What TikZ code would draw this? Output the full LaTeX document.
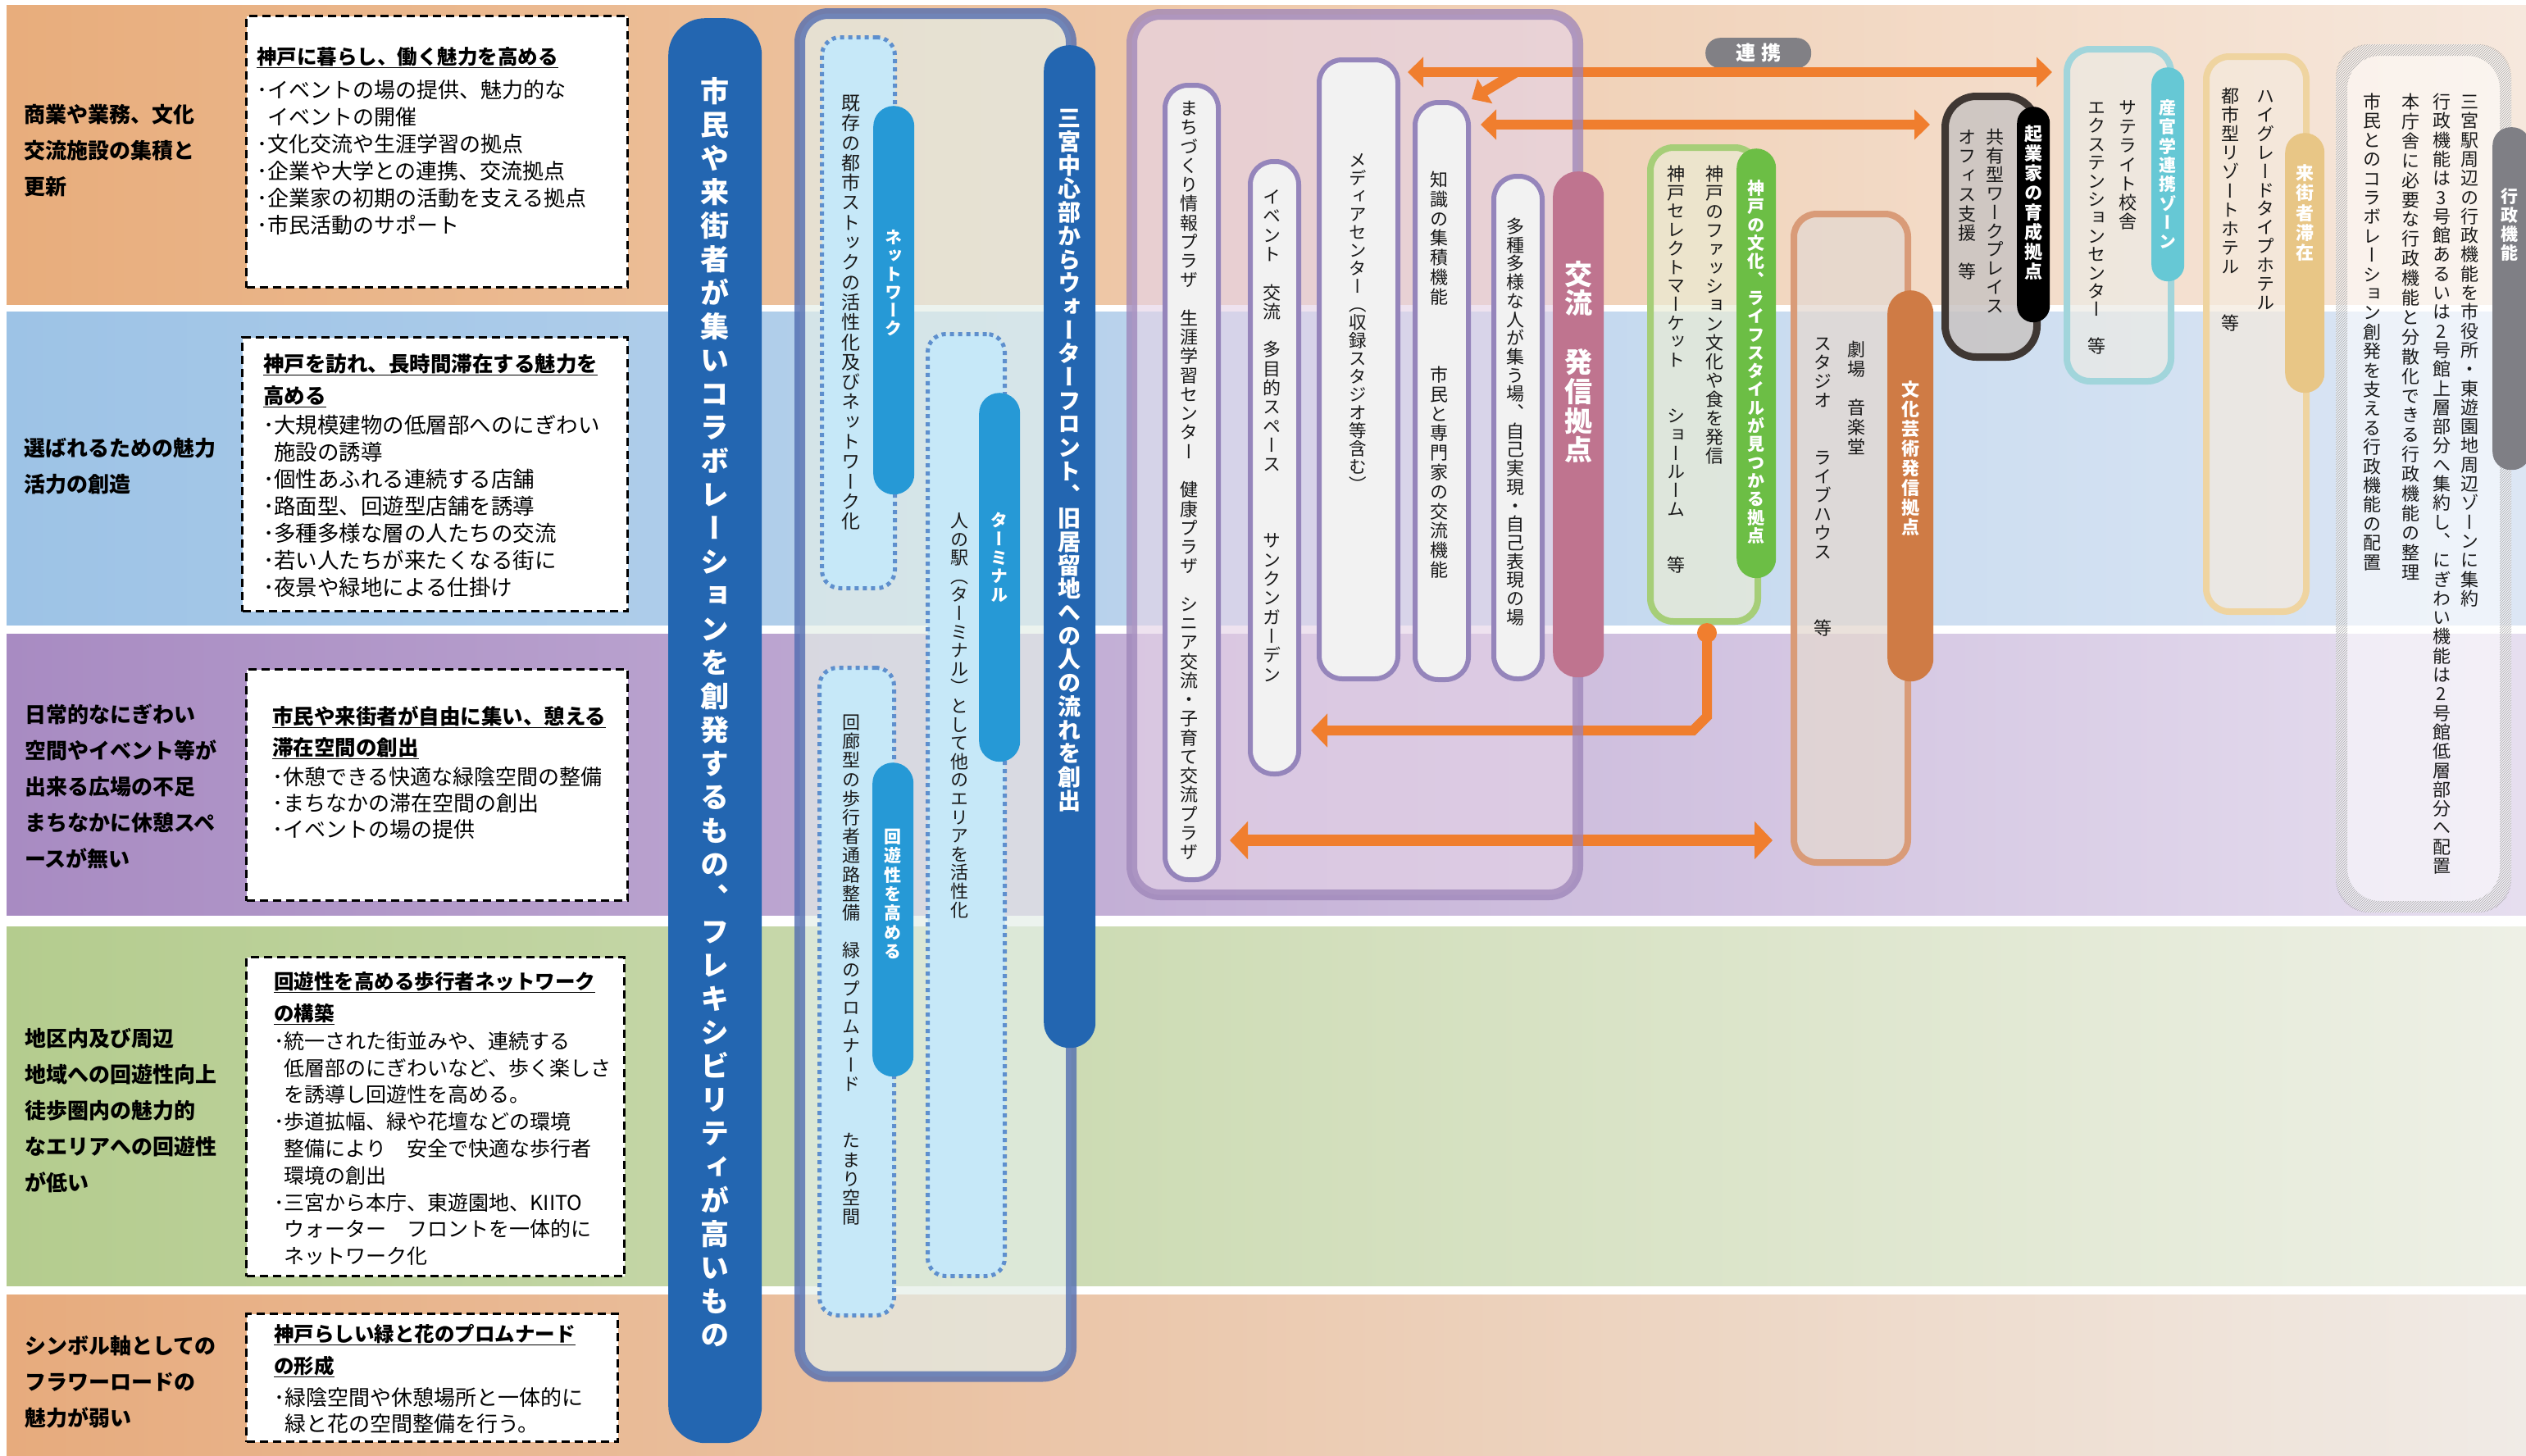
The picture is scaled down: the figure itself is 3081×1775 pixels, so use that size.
\documentclass[tikz,border=0pt]{standalone}
\usepackage{fontspec}
\setmainfont{Noto Sans CJK JP}
\newfontfamily\vjp[RawFeature=+vert]{Noto Sans CJK JP}
\usetikzlibrary{arrows.meta,patterns,calc}

\newcommand\fsz[2]{\fontsize{#1}{#2}\selectfont}
\ExplSyntaxOn
\NewDocumentCommand\vtext{O{0pt}m}
 {
  \vbox
   {
    \offinterlineskip
    \tl_map_inline:nn {#2}
     {
      \hbox to 1em {\hss \vrule width 0pt height .88em depth .12em \relax ##1 \hss}
      \kern #1 \relax
     }
    \unkern
   }
 }
\ExplSyntaxOff

\definecolor{bandAl}{HTML}{E8AD7C}\definecolor{bandAr}{HTML}{F6E8DD}
\definecolor{bandBl}{HTML}{9DC3E6}\definecolor{bandBr}{HTML}{DCE6F4}
\definecolor{bandCl}{HTML}{A88BC2}\definecolor{bandCr}{HTML}{E6DEEF}
\definecolor{bandDl}{HTML}{B4CC8E}\definecolor{bandDr}{HTML}{EEF0E6}
\definecolor{bandEl}{HTML}{E7AB7D}\definecolor{bandEr}{HTML}{F0EBE6}
\definecolor{navy}{HTML}{2366B1}
\definecolor{midblue}{HTML}{2699D6}
\definecolor{dotblue}{HTML}{5E8FCD}
\definecolor{paleblue}{HTML}{C6E8F8}
\definecolor{fonefill}{HTML}{E4EEE8}
\definecolor{foneline}{HTML}{4F6BB0}
\definecolor{ftwofill}{HTML}{E5D3E7}
\definecolor{ftwoline}{HTML}{9C84B8}
\definecolor{mline}{HTML}{9585BB}
\definecolor{mfill}{HTML}{F2F2F2}
\definecolor{mauve}{HTML}{BF748F}
\definecolor{orng}{HTML}{F07E2E}
\definecolor{greenpill}{HTML}{6CBE45}
\definecolor{greenline}{HTML}{A6CE78}
\definecolor{greenfill}{HTML}{EAECD4}
\definecolor{terrapill}{HTML}{CF7B45}
\definecolor{terraline}{HTML}{D99B78}
\definecolor{terrafill}{HTML}{E4D8D0}
\definecolor{kline}{HTML}{3F3733}
\definecolor{kfill}{HTML}{C9C4C2}
\definecolor{tealpill}{HTML}{66C8D5}
\definecolor{tealline}{HTML}{A1D5DB}
\definecolor{tealfill}{HTML}{ECEBE5}
\definecolor{goldpill}{HTML}{E8C686}
\definecolor{goldline}{HTML}{EFD4A0}
\definecolor{goldfill}{HTML}{F4EADD}
\definecolor{greypill}{HTML}{7F7F85}
\definecolor{hatchc}{HTML}{A8A8A8}
\definecolor{lkgrey}{HTML}{818085}

\tikzset{
 vt/.style={inner sep=0pt, anchor=north, text=black!90, font=\vjp\fsz{#1}{#1}},
 vtw/.style={inner sep=0pt, anchor=north, text=white, font=\vjp\bfseries\fsz{#1}{#1}},
 prob/.style={inner sep=0pt, anchor=north west, align=left, font=\bfseries\fsz{26}{44}},
 ttl/.style={inner sep=0pt, anchor=north west, align=left},
 bul/.style={inner sep=0pt, anchor=north west, align=left},
 dbox/.style={draw=black, line width=3pt, dash pattern=on 10pt off 6pt, fill=white, anchor=north west, inner sep=0pt},
 dotbox/.style={draw=dotblue, line width=5pt, dash pattern=on 5pt off 5pt, fill=paleblue, rounded corners=22pt, anchor=north west, inner sep=0pt},
 pill/.style={anchor=north west, inner sep=0pt, draw=none},
 mbox/.style={draw=mline, line width=6pt, fill=mfill, rounded corners=28pt, anchor=north west, inner sep=0pt},
 obox/.style={line width=8pt, rounded corners=28pt, anchor=north west, inner sep=0pt},
 arr/.style={draw=orng, line width=12pt},
}

\begin{document}
\begin{tikzpicture}[x=1pt,y=-1pt]
\useasboundingbox (0,0) rectangle (3081,1775);
\fill[white] (0,0) rectangle (3081,1775);
% bands
\shade[left color=bandAl, right color=bandAr] (8,6) rectangle (3081,371);
\shade[left color=bandBl, right color=bandBr] (8,380) rectangle (3081,762);
\shade[left color=bandCl, right color=bandCr] (8,773) rectangle (3081,1116);
\shade[left color=bandDl, right color=bandDr] (8,1130) rectangle (3081,1568);
\shade[left color=bandEl, right color=bandEr] (8,1579) rectangle (3081,1775);

% problem texts
\node[prob] (p1) at (29,127) {商業や業務、文化\\交流施設の集積と\\更新};
\node[prob] (p2) at (29,534) {選ばれるための魅力\\活力の創造};
\node[prob] (p3) at (30,859) {日常的なにぎわい\\空間やイベント等が\\出来る広場の不足\\まちなかに休憩スペ\\ースが無い};
\node[prob] (p4) at (30,1254) {地区内及び周辺\\地域への回遊性向上\\徒歩圏内の魅力的\\なエリアへの回遊性\\が低い};
\node[prob] (p5) at (30,1629) {シンボル軸としての\\フラワーロードの\\魅力が弱い};

% dashed boxes
\node[dbox, minimum width=465pt, minimum height=331pt] (db1) at (299,18) {};
\node[dbox, minimum width=470pt, minimum height=334pt] (db2) at (294,410) {};
\node[dbox, minimum width=465pt, minimum height=282pt] (db3) at (299,815) {};
\node[dbox, minimum width=461pt, minimum height=389pt] (db4) at (299,1166) {};
\node[dbox, minimum width=453pt, minimum height=156pt] (db5) at (299,1601) {};

\node[ttl, font=\bfseries\fsz{24.5}{39}] (t1) at (313,57) {\underline{神戸に暮らし、働く魅力を高める}};
\node[bul, font=\fsz{26}{33}] (b1) at (313,97) {･イベントの場の提供、魅力的な\\\phantom{･}イベントの開催\\･文化交流や生涯学習の拠点\\･企業や大学との連携、交流拠点\\･企業家の初期の活動を支える拠点\\･市民活動のサポート};

\node[ttl, font=\bfseries\fsz{25.5}{39}] (t2) at (321,431) {\underline{神戸を訪れ、長時間滞在する魅力を}\\\underline{高める}};
\node[bul, font=\fsz{26.5}{33}] (b2) at (321,506) {･大規模建物の低層部へのにぎわい\\\phantom{･}施設の誘導\\･個性あふれる連続する店舗\\･路面型、回遊型店舗を誘導\\･多種多様な層の人たちの交流\\･若い人たちが来たくなる街に\\･夜景や緑地による仕掛け};

\node[ttl, font=\bfseries\fsz{25.5}{38}] (t3) at (332,861) {\underline{市民や来街者が自由に集い、憩える}\\\underline{滞在空間の創出}};
\node[bul, font=\fsz{26}{32}] (b3) at (332,935) {･休憩できる快適な緑陰空間の整備\\･まちなかの滞在空間の創出\\･イベントの場の提供};

\node[ttl, font=\bfseries\fsz{24.5}{39}] (t4) at (334,1185) {\underline{回遊性を高める歩行者ネットワーク}\\\underline{の構築}};
\node[bul, font=\fsz{25}{32.8}] (b4) at (334,1258) {･統一された街並みや、連続する\\\phantom{･}低層部のにぎわいなど、歩く楽しさ\\\phantom{･}を誘導し回遊性を高める。\\･歩道拡幅、緑や花壇などの環境\\\phantom{･}整備により　安全で快適な歩行者\\\phantom{･}環境の創出\\･三宮から本庁、東遊園地、KIITO\\\phantom{･}ウォーター　フロントを一体的に\\\phantom{･}ネットワーク化};

\node[ttl, font=\bfseries\fsz{24.5}{39}] (t5) at (334,1615) {\underline{神戸らしい緑と花のプロムナード}\\\underline{の形成}};
\node[bul, font=\fsz{26}{32}] (b5) at (334,1692) {･緑陰空間や休憩場所と一体的に\\\phantom{･}緑と花の空間整備を行う。};

% big pill
\node[pill, fill=navy, rounded corners=45pt, minimum width=114pt, minimum height=1738pt] (bigp) at (815,22) {};
\node[vtw=35] (bigt) at (872,93) {\vtext[6pt]{市民や来街者が集いコラボレーションを創発するもの、フレキシビリティが高いもの}};

% frame 1
\path[fill=fonefill, fill opacity=.7, rounded corners=35pt] (975.5,16.5) rectangle (1306.5,1679);
\draw[foneline, draw opacity=.78, line width=13pt, rounded corners=35pt] (975.5,16.5) rectangle (1306.5,1679);

\node[dotbox, minimum width=89pt, minimum height=672pt] (dA) at (1000,43) {};
\node[dotbox, minimum width=94pt, minimum height=1149pt] (dB) at (1129,405) {};
\node[dotbox, minimum width=91pt, minimum height=790pt] (dC) at (997,812) {};
\node[vt=23] (tA) at (1038,114) {\vtext[1.3pt]{既存の都市ストックの活性化及びネットワーク化}};
\node[vt=22] (tB) at (1170,624) {\vtext[0.6pt]{人の駅（ターミナル）として他のエリアを活性化}};
\node[vt=22] (tC) at (1038,870) {\vtext[1.2pt]{回廊型の歩行者通路整備　緑のプロムナード　　たまり空間}};

\node[pill, fill=midblue, rounded corners=25pt, minimum width=50pt, minimum height=474pt] (pNet) at (1065,129) {};
\node[pill, fill=midblue, rounded corners=25pt, minimum width=50pt, minimum height=450pt] (pTer) at (1194,479) {};
\node[pill, fill=midblue, rounded corners=25pt, minimum width=50pt, minimum height=383pt] (pKai) at (1064,930) {};
\node[vtw=21] (tNet) at (1090,279) {\vtext[1.2pt]{ネットワーク}};
\node[vtw=21] (tTer) at (1219,624) {\vtext[1.75pt]{ターミナル}};
\node[vtw=21] (tKai) at (1089,1010) {\vtext[2.3pt]{回遊性を高める}};

\node[pill, fill=navy, rounded corners=31pt, minimum width=63pt, minimum height=1223pt] (pSan) at (1273,55) {};
\node[vtw=28] (tSan) at (1304,130) {\vtext[0.7pt]{三宮中心部からウォーターフロント、旧居留地への人の流れを創出}};

% frame 2
\path[fill=ftwofill, fill opacity=.65, rounded corners=35pt] (1380.5,17.5) rectangle (1924.5,1091.5);
\node[mbox, minimum width=65pt, minimum height=969pt] (M1) at (1418,101) {};
\node[mbox, minimum width=59pt, minimum height=747pt] (M2) at (1522,194) {};
\node[mbox, minimum width=96pt, minimum height=755pt] (M3) at (1606,70) {};
\node[mbox, minimum width=65pt, minimum height=704pt] (M4) at (1723,122) {};
\node[mbox, minimum width=59pt, minimum height=613pt] (M5) at (1819,212) {};
\node[vt=22] (tM1) at (1450,121) {\vtext[1.26pt]{まちづくり情報プラザ　生涯学習センター　健康プラザ　シニア交流・子育て交流プラザ}};
\node[vt=22] (tM2) at (1551,229) {\vtext[1.3pt]{イベント　交流　多目的スペース　　　サンクンガーデン}};
\node[vt=21.5] (tM3) at (1656,184) {\vtext[0.5pt]{メディアセンター（収録スタジオ等含む）}};
\node[vt=22] (tM4) at (1755,208) {\vtext[1.8pt]{知識の集積機能　　　市民と専門家の交流機能}};
\node[vt=22] (tM5) at (1848,265) {\vtext[0.7pt]{多種多様な人が集う場、自己実現・自己表現の場}};

% green box
\node[obox, draw=greenline, fill=greenfill, fill opacity=.67, minimum width=131pt, minimum height=578pt] (gbox) at (2009,176) {};
\node[pill, fill=greenpill, rounded corners=24pt, minimum width=48pt, minimum height=524pt] (gpill) at (2118,181) {};
\node[vtw=21] (tgp) at (2142,219) {\vtext[1.3pt]{神戸の文化、ライフスタイルが見つかる拠点}};
\node[vt=22] (tg1) at (2091,201) {\vtext[0.9pt]{神戸のファッション文化や食を発信}};
\node[vt=22] (tg2) at (2044,201) {\vtext[0.7pt]{神戸セレクトマーケット　　ショールーム　　等}};

% orange box
\node[obox, draw=terraline, fill=terrafill, fill opacity=.75, minimum width=139pt, minimum height=791pt] (obox) at (2184,257) {};
\node[pill, fill=terrapill, rounded corners=28pt, minimum width=56pt, minimum height=477pt] (opill) at (2302,354) {};
\node[vtw=22] (top) at (2330,464) {\vtext[2pt]{文化芸術発信拠点}};
\node[vt=22] (to1) at (2264,415) {\vtext[1.8pt]{劇場　音楽堂}};
\node[vt=22] (to2) at (2223,408) {\vtext[1.1pt]{スタジオ　　ライブハウス　　　等}};

% kigyo box
\node[obox, line width=9pt, draw=kline, fill=kfill, fill opacity=.85, rounded corners=38pt, minimum width=112pt, minimum height=318pt] (kbox) at (2368,113) {};
\node[pill, fill=black, rounded corners=20pt, minimum width=40pt, minimum height=263pt] (kpill) at (2460,130) {};
\node[vtw=22] (tkp) at (2480,152) {\vtext[2pt]{起業家の育成拠点}};
\node[vt=22] (tk1) at (2433,156) {\vtext[0.9pt]{共有型ワークプレイス}};
\node[vt=22] (tk2) at (2399,156) {\vtext[1.4pt]{オフィス支援　等}};

% sangaku box
\node[obox, draw=tealline, fill=tealfill, fill opacity=.7, minimum width=127pt, minimum height=405pt] (sbox) at (2517,56) {};
\node[pill, fill=tealpill, rounded corners=20pt, minimum width=40pt, minimum height=261pt] (spill) at (2624,82) {};
\node[vtw=21] (tsp) at (2644,121) {\vtext[2.3pt]{産官学連携ゾーン}};
\node[vt=22] (ts1) at (2595,120) {\vtext[1.2pt]{サテライト校舎}};
\node[vt=22] (ts2) at (2557,120) {\vtext[0.4pt]{エクステンションセンター　等}};

% raigai box
\node[obox, draw=goldline, fill=goldfill, fill opacity=.7, minimum width=122pt, minimum height=677pt] (rbox) at (2687,65) {};
\node[pill, fill=goldpill, rounded corners=24pt, minimum width=48pt, minimum height=317pt] (rpill) at (2787,162) {};
\node[vtw=22] (trp) at (2811,200) {\vtext[2.25pt]{来街者滞在}};
\node[vt=22] (tr1) at (2763,106) {\vtext[0.9pt]{ハイグレードタイプホテル}};
\node[vt=22] (tr2) at (2720,106) {\vtext[1.1pt]{都市型リゾートホテル　　等}};

% gyosei box
\fill[white, fill opacity=.55, rounded corners=45pt] (2849,54) rectangle (3063,1113);
\fill[pattern=north east lines, pattern color=hatchc, even odd rule, rounded corners=40pt] (2849,54) rectangle (3063,1113) (2863,68) rectangle (3049,1099);
\node[pill, fill=greypill, rounded corners=22pt, minimum width=46pt, minimum height=418pt] (gypill) at (3040,155) {};
\node[vtw=21] (tgy) at (3061,229) {\vtext[2pt]{行政機能}};
\node[vt=22] (tgy1) at (3012,113) {\vtext[1.3pt]{三宮駅周辺の行政機能を市役所・東遊園地周辺ゾーンに集約}};
\node[vt=22] (tgy2) at (2978,113) {\vtext[1.3pt]{行政機能は3号館あるいは2号館上層部分へ集約し、にぎわい機能は2号館低層部分へ配置}};
\node[vt=22] (tgy3) at (2940,113) {\vtext[1.9pt]{本庁舎に必要な行政機能と分散化できる行政機能の整理}};
\node[vt=22] (tgy4) at (2893,113) {\vtext[1.4pt]{市民とのコラボレーション創発を支える行政機能の配置}};

% renkei label
\node[pill, fill=lkgrey, rounded corners=18pt, minimum width=129pt, minimum height=37pt] (lk) at (2080,46) {};
\node[inner sep=0pt, text=white, font=\bfseries\fsz{24}{24}] (lkt) at (lk.center) {連\hspace{7pt}携};

% arrows
\coordinate (y1) at (0,88);
\coordinate (y2) at (0,152);
\coordinate (y3) at (0,891);
\coordinate (y4) at (0,1025);
\coordinate (brk) at (1848,89);
\coordinate (bend1) at (2082,874);
\coordinate (bend2) at (2065,891);
\draw[arr, arrows={Triangle[length=19pt,width=36pt]-Triangle[length=19pt,width=36pt]}] ($(M3.east |- y1)+(9,0)$) -- ($(sbox.west |- y1)+(-14,0)$);
\draw[arr, arrows={-Triangle[length=19pt,width=34pt]}] (brk) -- ($(M4.north east)+(1,-1)$);
\draw[arr, arrows={Triangle[length=19pt,width=36pt]-Triangle[length=19pt,width=36pt]}] ($(M4.east |- y2)+(12,0)$) -- ($(kbox.west |- y2)+(-14,0)$);
\node[circle, fill=orng, minimum size=24pt, inner sep=0pt] (dot) at (2082,772) {};
\draw[arr, arrows={-Triangle[length=20pt,width=40pt]}] (dot.center) -- (bend1) -- (bend2) -- ($(M2.east |- y3)+(12,0)$);
\draw[arr, line width=14pt, arrows={Triangle[length=22pt,width=45pt]-Triangle[length=22pt,width=45pt]}] ($(M1.east |- y4)+(11,0)$) -- ($(obox.west |- y4)+(-22,0)$);

% frame 2 border
\draw[ftwoline, draw opacity=.75, line width=13pt, rounded corners=35pt] (1380.5,17.5) rectangle (1924.5,1091.5);
\node[pill, fill=mauve, rounded corners=30pt, minimum width=62pt, minimum height=617pt] (kpl) at (1894,209) {};
\node[vtw=34] (tkpl) at (1925,317) {\vtext[1.8pt]{交流　発信拠点}};
\end{tikzpicture}
\end{document}
